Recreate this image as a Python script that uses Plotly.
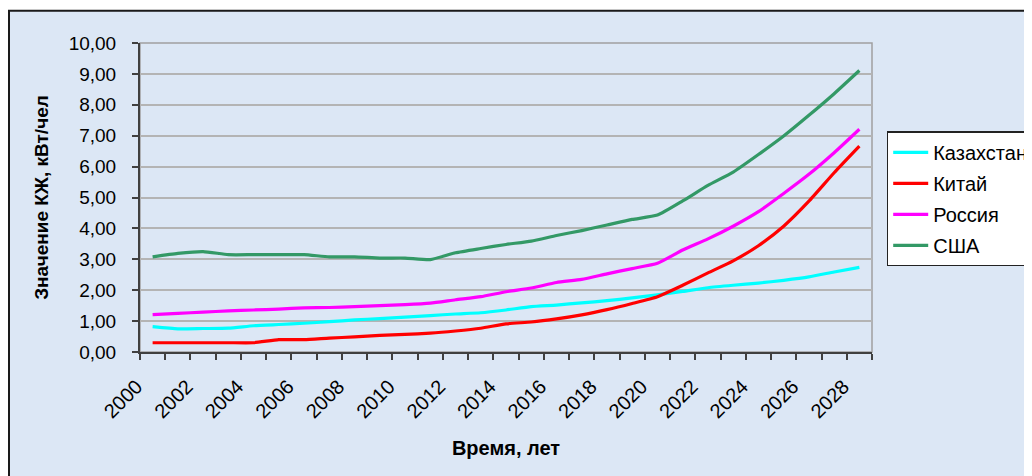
import plotly.graph_objects as go

years = list(range(2000, 2029))
kazakhstan = [0.82, 0.75, 0.76, 0.77, 0.85, 0.89, 0.93, 0.98, 1.04, 1.08, 1.13, 1.18, 1.23, 1.27,
              1.36, 1.47, 1.52, 1.59, 1.66, 1.75, 1.85, 1.96, 2.08, 2.16, 2.23, 2.32, 2.43, 2.59, 2.74]
china = [0.30, 0.30, 0.30, 0.30, 0.30, 0.40, 0.40, 0.45, 0.49, 0.54, 0.57, 0.61, 0.68, 0.77,
         0.91, 0.97, 1.07, 1.20, 1.37, 1.57, 1.79, 2.16, 2.56, 2.95, 3.44, 4.07, 4.88, 5.80, 6.66]
russia = [1.21, 1.25, 1.29, 1.33, 1.36, 1.39, 1.43, 1.44, 1.47, 1.50, 1.53, 1.58, 1.69, 1.79,
          1.95, 2.07, 2.25, 2.35, 2.53, 2.70, 2.87, 3.30, 3.66, 4.07, 4.54, 5.13, 5.75, 6.45, 7.21]
usa = [3.08, 3.19, 3.25, 3.15, 3.15, 3.15, 3.15, 3.08, 3.08, 3.04, 3.04, 2.99, 3.21, 3.35,
       3.48, 3.59, 3.77, 3.93, 4.11, 4.29, 4.43, 4.89, 5.39, 5.82, 6.39, 6.99, 7.66, 8.36, 9.11]

series_names = ["Казахстан", "Китай", "Россия", "США"]
series_values = [kazakhstan, china, russia, usa]
series_colors = ["#00ffff", "#ff0000", "#ff00ff", "#339966"]

x_ticks = list(range(2000, 2029, 2))
y_ticks = list(range(0, 11))

FONT = "Liberation Sans, Arial, sans-serif"
OFF = 8  # page body margin
W, H = 1032 - OFF, 476 - OFF
L, R, T, B = 140 - OFF, 872 - OFF, 43.3 - OFF, 352.3 - OFF

fig = go.Figure()
for name, vals, col in zip(series_names, series_values, series_colors):
    fig.add_trace(go.Scatter(x=years, y=vals, name=name, mode="lines",
                             line=dict(color=col, width=3.2, shape="spline", smoothing=0.5),
                             legendgroup=name))

pw, ph = R - L, B - T
def px(xp):
    return (xp - OFF - L) / pw
def py(yp):
    return (B - (yp - OFF)) / ph

fig.update_layout(
    width=W, height=H,
    margin=dict(l=L, r=W - R, t=T, b=H - B, autoexpand=False),
    paper_bgcolor="white",
    plot_bgcolor="rgba(0,0,0,0)",
    separators=", ",
    font=dict(family=FONT, size=18, color="black"),
    shapes=[
        dict(type="rect", xref="paper", yref="paper", x0=px(9), x1=px(1050), y0=py(11), y1=py(495),
             fillcolor="#dce7f5", line=dict(color="#1a1a1a", width=2), layer="below"),
        dict(type="rect", xref="paper", yref="paper", x0=0, x1=1, y0=0, y1=1,
             fillcolor="rgba(0,0,0,0)", line=dict(color="#a0a0a0", width=1.5), layer="below"),
    ],
    xaxis=dict(
        range=[1999.5, 2028.5], tickmode="array", tickvals=x_ticks, ticktext=[str(v) for v in x_ticks],
        tickangle=-45, ticks="", showgrid=False, zeroline=False,
        showline=True, linecolor="#404040", linewidth=2,
        tickfont=dict(size=20), ticklabelshift=-16, ticklabelstandoff=13,
        minor=dict(tickmode="linear", tick0=1999.5, dtick=1, ticks="outside", ticklen=6,
                   tickcolor="#404040", tickwidth=1.5, showgrid=False),
        title=dict(text="<b>Время, лет</b>", font=dict(size=20), standoff=20),
    ),
    yaxis=dict(
        range=[0, 10], tickmode="array", tickvals=y_ticks, tickformat=".2f",
        ticks="outside", ticklen=6, tickcolor="#404040", tickwidth=1.5,
        showgrid=True, gridcolor="#b4b4b4", gridwidth=1.5, zeroline=False,
        showline=True, linecolor="#404040", linewidth=2,
        tickfont=dict(size=19), ticklabelstandoff=12,
        title=dict(text="<b>Значение КЖ, кВт/чел</b>", font=dict(size=19), standoff=15),
    ),
    legend=dict(
        x=px(886.7), y=py(131.7), xanchor="left", yanchor="top",
        bgcolor="white", bordercolor="#222222", borderwidth=1.5,
        font=dict(size=20), tracegroupgap=2, itemwidth=35,
    ),
)

fig.write_html("out.html")
